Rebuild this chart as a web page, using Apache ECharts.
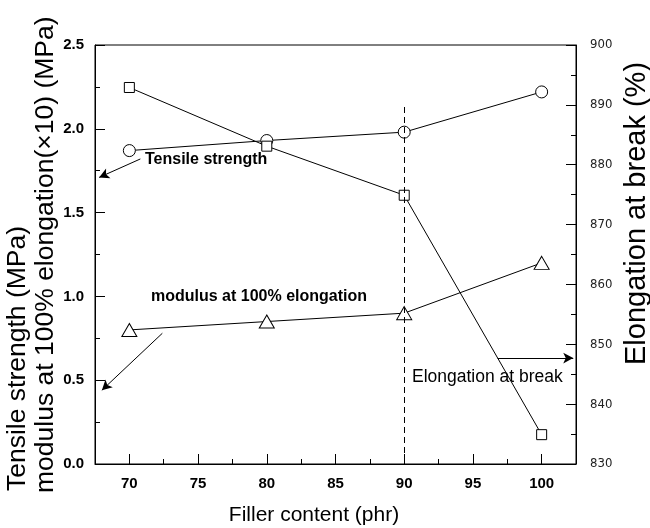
<!DOCTYPE html>
<html>
<head>
<meta charset="utf-8">
<script src="https://cdn.jsdelivr.net/npm/echarts@6/dist/echarts.min.js"></script>
<style>
  html, body { margin: 0; padding: 0; background: #fff; }
  #chart { width: 650px; height: 528px; }
</style>
</head>
<body>
<div id="chart"></div>
<script>
// filler content (phr)
var filler = [70, 80, 90, 100];
var tensile = [1.87, 1.93, 1.98, 2.22];        // MPa
var modulus = [0.80, 0.85, 0.90, 1.20];        // MPa (x10)
var elongation = [892.9, 883.1, 874.9, 834.9]; // %
var xTicks = [70, 75, 80, 85, 90, 95, 100];

var FONT = '"Liberation Sans", Arial, sans-serif';

function pairs(xs, ys) {
  return xs.map(function (x, i) { return [x, ys[i]]; });
}

var lineStyle = { color: '#000', width: 1 };
var arrowLine = { color: '#000', width: 1, type: 'solid' };

var chart = echarts.init(document.getElementById('chart'));
var option = {
  animation: false,
  backgroundColor: '#fff',
  grid: {
    left: 95, right: 74, top: 45, bottom: 64,
    show: true, borderColor: '#000', borderWidth: 1
  },
  xAxis: [
    {
      type: 'value', min: 67.5, max: 102.5, interval: 2.5,
      axisLine: { lineStyle: { color: '#000' } },
      axisTick: { inside: true, length: 5, lineStyle: { color: '#000' } },
      axisLabel: { show: false },
      splitLine: { show: false }
    },
    {
      type: 'value', min: 67.5, max: 102.5, position: 'bottom',
      axisLine: { show: false },
      axisTick: { inside: true, length: 10, customValues: xTicks, lineStyle: { color: '#000' } },
      axisLabel: {
        customValues: xTicks, margin: 12, color: '#000',
        fontFamily: FONT, fontWeight: 'bold', fontSize: 15
      },
      splitLine: { show: false }
    }
  ],
  yAxis: [
    {
      type: 'value', min: 0, max: 2.5, interval: 0.5,
      axisLine: { show: true, lineStyle: { color: '#000' } },
      axisTick: { show: true, inside: true, length: 10, lineStyle: { color: '#000' } },
      minorTick: { show: true, splitNumber: 2, length: 5, lineStyle: { color: '#000' } },
      axisLabel: {
        margin: 11, color: '#000', fontFamily: FONT, fontWeight: 'bold', fontSize: 15,
        formatter: function (v) { return v.toFixed(1); }
      },
      splitLine: { show: false }
    },
    {
      type: 'value', min: 830, max: 900, interval: 10, position: 'right',
      axisLine: { show: true, lineStyle: { color: '#000' } },
      axisTick: { show: true, inside: true, length: 10, lineStyle: { color: '#000' } },
      minorTick: { show: true, splitNumber: 2, length: 5, lineStyle: { color: '#000' } },
      axisLabel: {
        margin: 14, color: '#222',
        fontFamily: '"Liberation Sans Narrow", "DejaVu Sans Condensed", sans-serif', fontSize: 13
      },
      splitLine: { show: false }
    }
  ],
  graphic: [
    // axis titles
    {
      type: 'text', x: 18, y: 491, rotation: Math.PI / 2,
      style: { text: 'Tensile strength (MPa)', font: '26.5px ' + FONT, fill: '#000',
        textAlign: 'left', textVerticalAlign: 'middle' }
    },
    {
      type: 'text', x: 46, y: 493, rotation: Math.PI / 2,
      style: { text: 'modulus at 100% elongation(\u00d710) (MPa)', font: '26.5px ' + FONT, fill: '#000',
        textAlign: 'left', textVerticalAlign: 'middle' }
    },
    {
      type: 'text', x: 637, y: 365, rotation: Math.PI / 2,
      style: { text: 'Elongation at break (%)', font: '29px ' + FONT, fill: '#000',
        textAlign: 'left', textVerticalAlign: 'middle' }
    },
    {
      type: 'text', x: 314, y: 515,
      style: { text: 'Filler content (phr)', font: '21px ' + FONT, fill: '#000',
        textAlign: 'center', textVerticalAlign: 'middle' }
    },
    // in-plot annotations
    {
      type: 'text', x: 145, y: 160,
      style: { text: 'Tensile strength', font: 'bold 16px ' + FONT, fill: '#000',
        textAlign: 'left', textVerticalAlign: 'middle' }
    },
    {
      type: 'text', x: 151, y: 297,
      style: { text: 'modulus at 100% elongation', font: 'bold 16px ' + FONT, fill: '#000',
        textAlign: 'left', textVerticalAlign: 'middle' }
    },
    {
      type: 'text', x: 412, y: 377,
      style: { text: 'Elongation at break', font: '17.5px ' + FONT, fill: '#000',
        textAlign: 'left', textVerticalAlign: 'middle' }
    }
  ],
  series: [
    {
      name: 'Tensile strength', type: 'line', xAxisIndex: 0, yAxisIndex: 0,
      data: pairs(filler, tensile),
      symbol: 'circle', symbolSize: 12,
      itemStyle: { color: '#fff', borderColor: '#000', borderWidth: 1 },
      lineStyle: lineStyle,
      markLine: {
        silent: true, symbol: ['none', 'arrow'], symbolSize: [8, 10],
        lineStyle: arrowLine, label: { show: false },
        data: [
          [{ coord: [70.8, 1.82] }, { coord: [67.8, 1.71] }]
        ]
      }
    },
    {
      name: 'modulus at 100% elongation', type: 'line', xAxisIndex: 0, yAxisIndex: 0,
      data: pairs(filler, modulus),
      symbol: 'triangle', symbolSize: [15, 13],
      itemStyle: { color: '#fff', borderColor: '#000', borderWidth: 1 },
      lineStyle: lineStyle,
      markLine: {
        silent: true, symbol: ['none', 'none'],
        lineStyle: { color: '#000', width: 1, type: [6, 4] }, label: { show: false },
        data: [
          [{ coord: [90, 2.13] }, { coord: [90, 0] }]
        ]
      }
    },
    {
      name: 'Elongation at break', type: 'line', xAxisIndex: 0, yAxisIndex: 1,
      data: pairs(filler, elongation),
      symbol: 'rect', symbolSize: 10,
      itemStyle: { color: '#fff', borderColor: '#000', borderWidth: 1 },
      lineStyle: lineStyle,
      markLine: {
        silent: true, symbol: ['none', 'arrow'], symbolSize: [8, 10],
        lineStyle: arrowLine, label: { show: false },
        data: [
          [{ coord: [96.8, 847.7] }, { coord: [102.3, 847.7] }]
        ]
      }
    },
    {
      // second modulus arrow
      type: 'line', xAxisIndex: 0, yAxisIndex: 0, data: [], silent: true,
      markLine: {
        silent: true, symbol: ['none', 'arrow'], symbolSize: [8, 10],
        lineStyle: arrowLine, label: { show: false },
        data: [
          [{ coord: [72.4, 0.78] }, { coord: [68.0, 0.44] }]
        ]
      }
    }
  ]
};
chart.setOption(option);
</script>
</body>
</html>
